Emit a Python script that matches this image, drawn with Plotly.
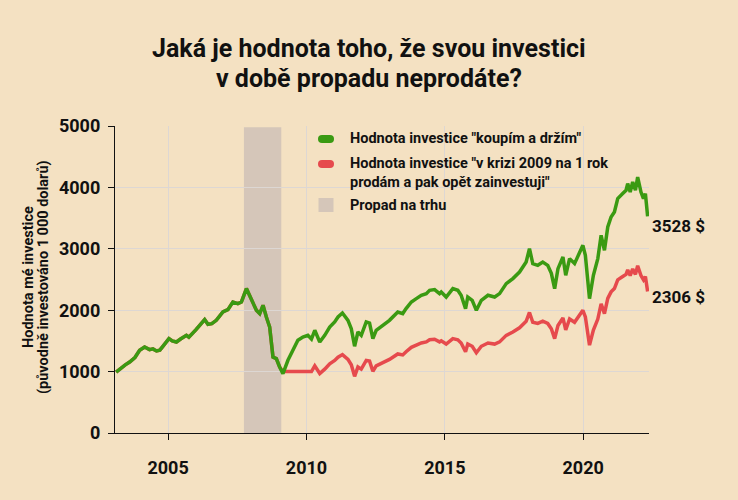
import plotly.graph_objects as go

# ---------------- data ----------------
years = [
    2003.12, 2003.30, 2003.45, 2003.61, 2003.80, 2003.97, 2004.15, 2004.33, 2004.45, 2004.58,
    2004.70, 2004.81, 2005.03, 2005.15, 2005.30, 2005.45, 2005.66, 2005.75, 2005.84, 2006.00,
    2006.14, 2006.32, 2006.44, 2006.58, 2006.74, 2006.86, 2006.98, 2007.16, 2007.34, 2007.52,
    2007.65, 2007.83, 2007.95, 2008.07, 2008.19, 2008.31, 2008.43, 2008.55, 2008.67, 2008.79,
    2008.91, 2009.03, 2009.15, 2009.33, 2009.51, 2009.69, 2009.87, 2010.05, 2010.18, 2010.30,
    2010.48, 2010.66, 2010.84, 2011.02, 2011.14, 2011.30, 2011.50, 2011.62, 2011.74, 2011.86,
    2011.98, 2012.16, 2012.28, 2012.40, 2012.52, 2012.76, 2013.00, 2013.30, 2013.48, 2013.60,
    2013.79, 2013.97, 2014.15, 2014.33, 2014.45, 2014.63, 2014.81, 2014.87, 2015.05, 2015.29,
    2015.47, 2015.59, 2015.75, 2015.83, 2015.99, 2016.14, 2016.32, 2016.56, 2016.80, 2016.98,
    2017.22, 2017.46, 2017.70, 2017.94, 2018.06, 2018.18, 2018.36, 2018.54, 2018.72, 2018.85,
    2018.97, 2019.09, 2019.27, 2019.37, 2019.51, 2019.69, 2019.87, 2019.99, 2020.08, 2020.23,
    2020.37, 2020.53, 2020.65, 2020.77, 2020.89, 2021.01, 2021.13, 2021.25, 2021.43, 2021.55,
    2021.61, 2021.70, 2021.79, 2021.89, 2021.97, 2022.09, 2022.18, 2022.25, 2022.33,
]

hold_values = [
    990, 1060, 1110, 1156, 1230, 1347, 1400, 1358, 1370, 1336,
    1350, 1412, 1537, 1500, 1482, 1530, 1591, 1560, 1600, 1680,
    1754, 1847, 1770, 1780, 1835, 1900, 1971, 2010, 2134, 2107,
    2134, 2352, 2243, 2107, 1998, 1945, 2080, 1889, 1726, 1238,
    1212, 1075, 967, 1184, 1347, 1510, 1564, 1591, 1530, 1673,
    1482, 1591, 1726, 1808, 1889, 1954, 1835, 1700, 1412, 1645,
    1591, 1808, 1791, 1537, 1673, 1754, 1835, 1971, 1945, 2026,
    2134, 2189, 2243, 2270, 2324, 2335, 2270, 2297, 2215, 2352,
    2324, 2243, 2026, 2215, 2161, 1998, 2161, 2243, 2215, 2270,
    2433, 2515, 2622, 2785, 3003, 2759, 2731, 2785, 2731, 2600,
    2352, 2677, 2867, 2568, 2840, 2759, 2922, 3057, 2894, 2189,
    2568, 2840, 3220, 2976, 3355, 3518, 3600, 3817, 3899, 3953,
    4062, 3925, 4088, 3953, 4169, 3925, 3817, 3899, 3528,
]

sell_values = [
    990, 1060, 1110, 1156, 1230, 1347, 1400, 1358, 1370, 1336,
    1350, 1412, 1537, 1500, 1482, 1530, 1591, 1560, 1600, 1680,
    1754, 1847, 1770, 1780, 1835, 1900, 1971, 2010, 2134, 2107,
    2134, 2352, 2243, 2107, 1998, 1945, 2080, 1889, 1726, 1238,
    1212, 1075, 1000, 1000, 1000, 1000, 1000, 1000, 1000, 1093,
    969, 1040, 1128, 1182, 1235, 1277, 1199, 1111, 923, 1075,
    1040, 1182, 1171, 1005, 1093, 1146, 1199, 1288, 1271, 1324,
    1395, 1431, 1466, 1484, 1519, 1526, 1484, 1501, 1448, 1537,
    1519, 1466, 1324, 1448, 1412, 1306, 1412, 1466, 1448, 1484,
    1590, 1644, 1714, 1820, 1963, 1803, 1785, 1820, 1785, 1699,
    1537, 1750, 1874, 1678, 1856, 1803, 1910, 1998, 1892, 1431,
    1678, 1856, 2105, 1945, 2193, 2299, 2353, 2495, 2548, 2584,
    2655, 2565, 2672, 2584, 2725, 2565, 2495, 2548, 2306,
]

crisis_start, crisis_end = 2007.74, 2009.09
x_ticks = [2005, 2010, 2015, 2020]
y_ticks = [0, 1000, 2000, 3000, 4000, 5000]

title_lines = ["Jaká je hodnota toho, že svou investici", "v době propadu neprodáte?"]
y_title_lines = ["Hodnota mé investice", "(původně investováno 1 000 dolarů)"]
legend_labels = [
    'Hodnota investice "koupím a držím"',
    'Hodnota investice "v krizi 2009 na 1 rok<br>prodám a pak opět zainvestuji"',
    "Propad na trhu",
]

# ---------------- style ----------------
BG = "#f4e1c2"
GREEN = "#3a9a12"
RED = "#e64a4d"
SHADE = "#d5c6b9"
GRID = "#ddd7d3"
INK = "#111111"
FONT = "Roboto"

W, H = 738, 500
L, R, T, B = 115, 89, 126, 67
PW, PH = W - L - R, H - T - B


def xp(px):
    return (px - L) / PW


def yp(py):
    return (H - B - py) / PH


fig = go.Figure()

fig.add_trace(go.Scatter(x=years, y=sell_values, mode="lines",
                         line=dict(color=RED, width=3.5), showlegend=False,
                         hoverinfo="skip"))
fig.add_trace(go.Scatter(x=years, y=hold_values, mode="lines",
                         line=dict(color=GREEN, width=3.5), showlegend=False,
                         hoverinfo="skip"))

# crisis shading
fig.add_shape(type="rect", xref="x", yref="y", x0=crisis_start, x1=crisis_end,
              y0=0, y1=4980, fillcolor=SHADE, line=dict(width=0), layer="below")

# manual legend markers (pills = rect + two circles)
def pixel_shape(kind, cx, cy, x0, x1, y0, y1, col):
    fig.add_shape(type=kind, xref="paper", yref="paper", xsizemode="pixel",
                  ysizemode="pixel", xanchor=xp(cx), yanchor=yp(cy),
                  x0=x0, x1=x1, y0=y0, y1=y1, fillcolor=col,
                  line=dict(width=0))


for cy, col in [(139, GREEN), (164, RED)]:
    pixel_shape("rect", 326, cy, -4, 4, -4, 4, col)
    pixel_shape("circle", 326, cy, -8, 0, -4, 4, col)
    pixel_shape("circle", 326, cy, 0, 8, -4, 4, col)
pixel_shape("rect", 326, 205, -7.5, 7.5, -7, 7, SHADE)

legend_font = dict(family=FONT, size=14.5, color=INK, weight="bold")
for text, cy in zip(legend_labels, [138, 173, 205]):
    fig.add_annotation(xref="paper", yref="paper", x=xp(348), y=yp(cy),
                       text=text, showarrow=False, xanchor="left",
                       yanchor="middle", align="left", font=legend_font)

# end labels
end_font = dict(family=FONT, size=17, color=INK, weight="bold")
fig.add_annotation(x=years[-1], y=hold_values[-1], text=f"{hold_values[-1]} $",
                   showarrow=False, xanchor="left", yanchor="middle",
                   xshift=2, yshift=-10, font=end_font)
fig.add_annotation(x=years[-1], y=sell_values[-1], text=f"{sell_values[-1]} $",
                   showarrow=False, xanchor="left", yanchor="middle",
                   xshift=2, yshift=-6, font=end_font)

# y-axis title (rotated, two lines)
for text, cx in zip(y_title_lines, [28, 43]):
    fig.add_annotation(xref="paper", yref="paper", x=xp(cx), y=yp(277),
                       text=text, textangle=-90, showarrow=False,
                       xanchor="center", yanchor="middle",
                       font=dict(family=FONT, size=14.5, color=INK, weight="bold"))

# title (two lines)
for text, cy in zip(title_lines, [48, 79]):
    fig.add_annotation(xref="paper", yref="paper", x=xp(369), y=yp(cy),
                       text=text, showarrow=False, xanchor="center",
                       yanchor="middle",
                       font=dict(family=FONT, size=25, color=INK, weight="bold"))

fig.update_layout(
    width=W, height=H,
    paper_bgcolor=BG, plot_bgcolor=BG,
    margin=dict(l=L, r=R, t=T, b=B),
    showlegend=False,
    xaxis=dict(range=[2003.08, 2022.38], tickvals=x_ticks,
               ticktext=[str(t) for t in x_ticks],
               showgrid=True, gridcolor=GRID, gridwidth=1, zeroline=False,
               showline=True, linecolor=INK, linewidth=1.3,
               ticks="outside", ticklen=6, tickcolor=INK, tickwidth=1.3,
               ticklabelstandoff=12,
               tickfont=dict(family=FONT, size=18, color=INK, weight="bold")),
    yaxis=dict(range=[0, 5000], tickvals=y_ticks,
               showgrid=True, gridcolor=GRID, gridwidth=1, zeroline=False,
               showline=True, linecolor=INK, linewidth=1.3,
               ticks="outside", ticklen=6, tickcolor=INK, tickwidth=1.3,
               ticklabelstandoff=4,
               tickfont=dict(family=FONT, size=18, color=INK, weight="bold")),
)

fig.write_html("out.html")
